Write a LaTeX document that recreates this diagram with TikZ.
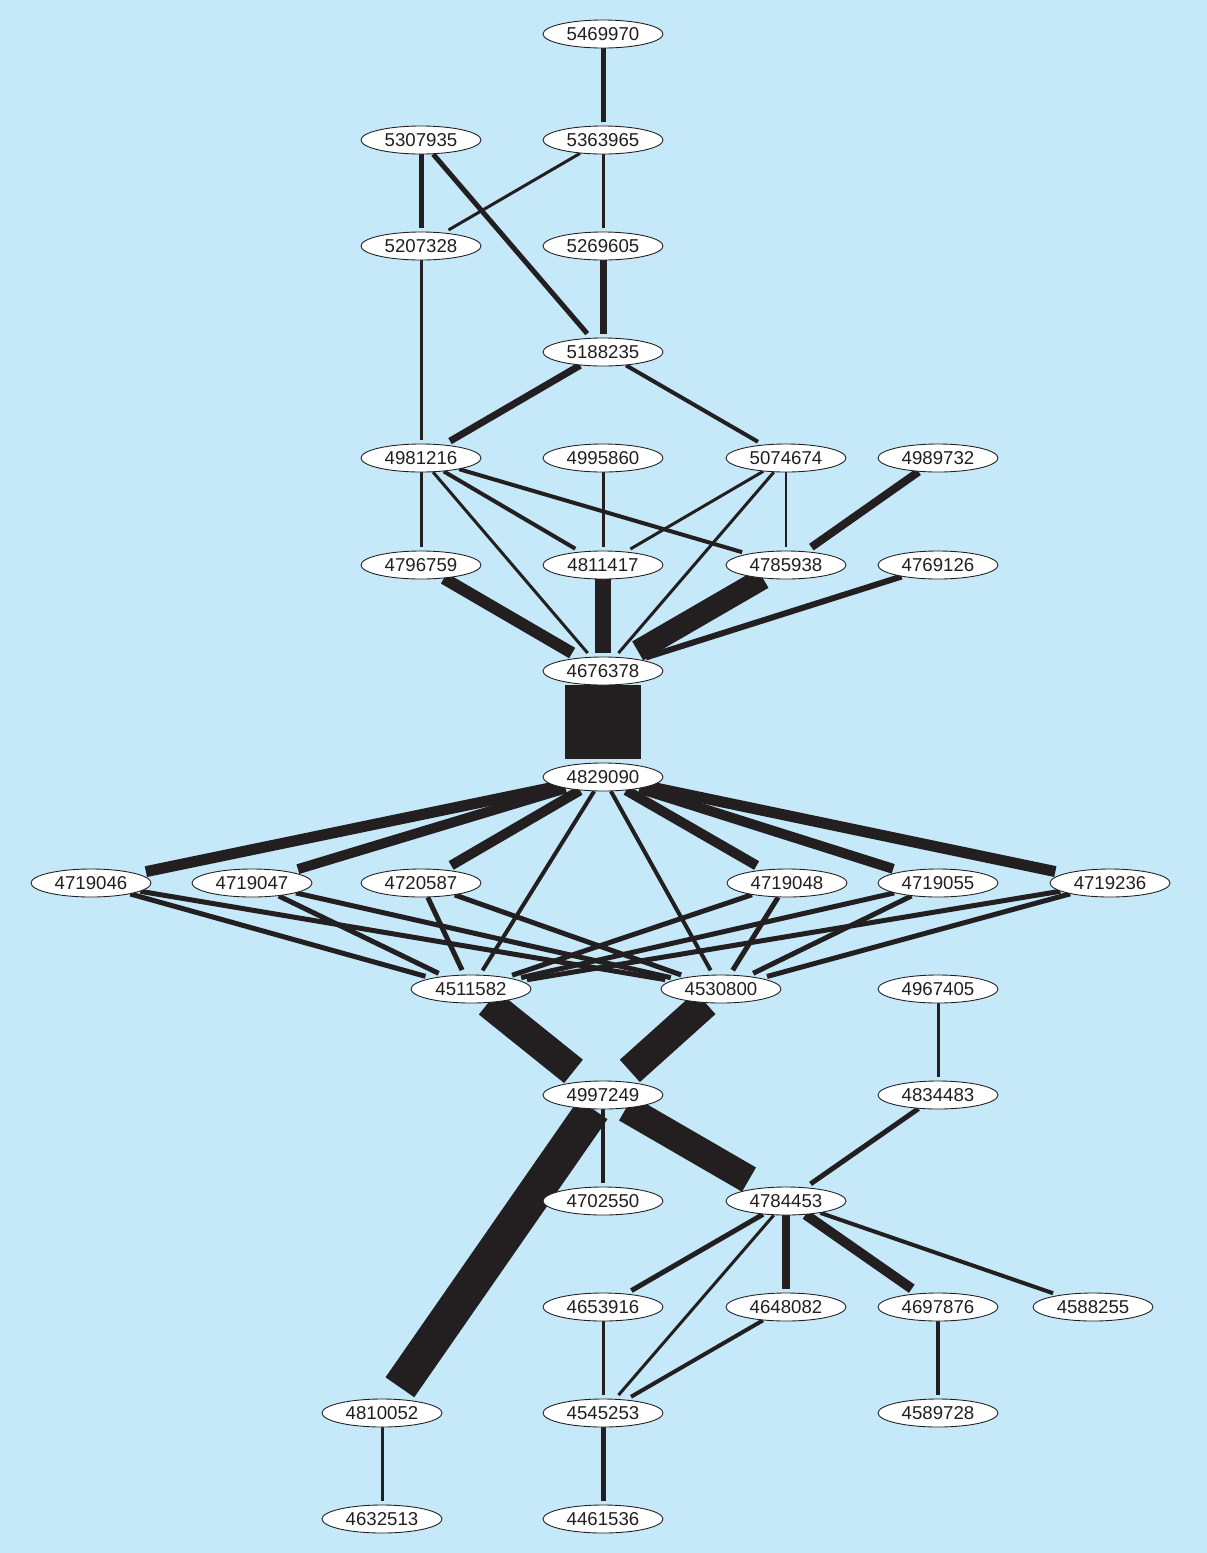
\documentclass[tikz,border=0pt]{standalone}
\usepackage{fontspec}
\setmainfont{Liberation Sans}
\usetikzlibrary{shapes.geometric}
\definecolor{fundo}{RGB}{197,233,249}
\definecolor{tinta}{RGB}{35,31,32}
\pgfdeclarelayer{fundo}
\pgfdeclarelayer{arestas}
\pgfsetlayers{fundo,arestas,main}
% x/y/patente
\def\nos{603/34/5469970, 421/140/5307935, 603/140/5363965, 421/246/5207328, 603/246/5269605,
  603/352/5188235, 421/458/4981216, 603/458/4995860, 786/458/5074674, 938/458/4989732,
  421/565/4796759, 603/565/4811417, 786/565/4785938, 938/565/4769126,
  603/671/4676378, 603/777/4829090,
  91/883/4719046, 252/883/4719047, 421/883/4720587, 787/883/4719048, 938/883/4719055, 1110/883/4719236,
  471/989/4511582, 721/989/4530800, 938/989/4967405, 603/1095/4997249, 938/1095/4834483,
  603/1201/4702550, 786/1201/4784453,
  603/1307/4653916, 786/1307/4648082, 938/1307/4697876, 1093/1307/4588255,
  382/1413/4810052, 603/1413/4545253, 938/1413/4589728, 382/1519/4632513, 603/1519/4461536}
% citada/citante/espessura
\def\arestas{5469970/5363965/5, 5307935/5207328/5, 5307935/5188235/5, 5363965/5207328/3,
  5363965/5269605/3, 5269605/5188235/7, 5207328/4981216/3, 5188235/4981216/7, 5188235/5074674/4,
  4981216/4796759/3, 4981216/4676378/3, 4981216/4811417/4, 4981216/4785938/4,
  4995860/4811417/3, 5074674/4811417/3, 5074674/4676378/3, 5074674/4785938/2.5,
  4989732/4785938/8, 4796759/4676378/12, 4811417/4676378/16, 4785938/4676378/22,
  4769126/4676378/6, 4676378/4829090/76,
  4829090/4719046/11, 4829090/4719047/10, 4829090/4720587/10, 4829090/4511582/4,
  4829090/4530800/4, 4829090/4719048/10, 4829090/4719055/10, 4829090/4719236/11,
  4719046/4511582/5, 4719046/4530800/5, 4719047/4511582/5, 4719047/4530800/5,
  4720587/4511582/5, 4720587/4530800/5, 4719048/4511582/5, 4719048/4530800/5,
  4719055/4511582/5, 4719055/4530800/5, 4719236/4511582/5, 4719236/4530800/5,
  4511582/4997249/30, 4530800/4997249/30, 4997249/4810052/35, 4997249/4702550/4,
  4997249/4784453/28, 4967405/4834483/3, 4834483/4784453/5,
  4784453/4653916/5, 4784453/4545253/3, 4784453/4648082/8, 4784453/4697876/10,
  4784453/4588255/4, 4648082/4545253/4, 4653916/4545253/3, 4697876/4589728/4,
  4810052/4632513/3, 4545253/4461536/5}
\tikzset{
  patente/.style={ellipse, draw=tinta, fill=white, line width=0.5pt, inner sep=0pt,
    minimum width=24mm, minimum height=5.6mm, text=tinta, font=\fontsize{10.6}{12}\selectfont},
  citacao/.style={draw=tinta, line cap=butt},
}

\begin{document}
\begin{tikzpicture}[x=0.2mm, y=-0.2mm]
  \begin{pgfonlayer}{fundo}
    \fill[fundo] (0,0) rectangle (1207,1553);
  \end{pgfonlayer}
  \foreach \x/\y/\n in \nos { \node[patente] (n\n) at (\x,\y) {\n}; }

  % ---------------- citações ----------------
  \begin{pgfonlayer}{arestas}
    \foreach \a/\b/\w in \arestas {
      \pgfpointdiff{\pgfpointanchor{n\a}{center}}{\pgfpointanchor{n\b}{center}}
      \pgfgetlastxy{\dx}{\dy}
      \pgfmathsetmacro\enc{0.8+0.1*\w*abs(\dx)/veclen(\dx,\dy)}
      \draw[citacao, line width=\w*0.2mm, shorten >=\enc mm] (n\a) -- (n\b);
    }
  \end{pgfonlayer}
\end{tikzpicture}
\end{document}
